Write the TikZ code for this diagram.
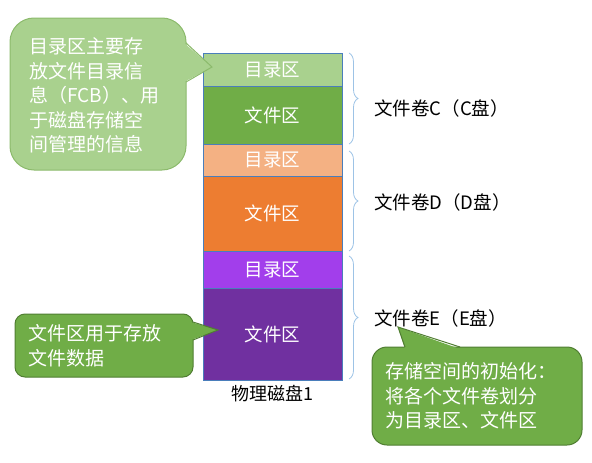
\documentclass[tikz,border=0pt]{standalone}
\usepackage{fontspec}
\setmainfont{Noto Sans CJK SC}
\usetikzlibrary{decorations.pathreplacing}
\definecolor{dirC}{HTML}{A9D18E}
\definecolor{fileC}{HTML}{70AD47}
\definecolor{dirD}{HTML}{F4B183}
\definecolor{fileD}{HTML}{ED7D31}
\definecolor{dirE}{HTML}{A23EEB}
\definecolor{fileE}{HTML}{7030A0}
\definecolor{segline}{HTML}{4A7EBB}
\definecolor{braceline}{HTML}{9DC3E6}
\definecolor{lightborder}{HTML}{8CBA6C}
\definecolor{darkborder}{HTML}{507E32}
\begin{document}
\begin{tikzpicture}[x=1pt,y=-1pt,
  seg/.style={draw=segline, line width=0.7pt, minimum width=139pt, inner sep=0pt, text=white, font=\fontsize{18.5}{22}\selectfont},
  bracestyle/.style={draw=braceline, line width=0.8pt, decorate, decoration={brace, amplitude=9pt}},
  vol/.style={anchor=west, inner sep=0pt, font=\fontsize{18.5}{22}\selectfont},
  note/.style={anchor=west, inner sep=0pt, align=left, text=white, font=\fontsize{19}{24.5}\selectfont},
  c1/.style={fill=dirC, draw=lightborder, line width=1pt},
  c2/.style={fill=fileC, draw=darkborder, line width=1pt}
]
\useasboundingbox (0,0) rectangle (592,463);
% disk segments
\node[seg, fill=dirC,  minimum height=33pt] (dc) at (272.5,69.5) {目录区};
\node[seg, fill=fileC, minimum height=58pt] (fc) at (272.5,115) {文件区};
\node[seg, fill=dirD,  minimum height=32pt] (dd) at (272.5,160) {目录区};
\node[seg, fill=fileD, minimum height=75pt] (fd) at (272.5,213.5) {文件区};
\node[seg, fill=dirE,  minimum height=37pt] (de) at (272.5,269.5) {目录区};
\node[seg, fill=fileE, minimum height=92pt] (fe) at (272.5,334) {文件区};
\node[inner sep=0pt, font=\fontsize{18}{22}\selectfont] (disk) at (272.5,394) {物理磁盘1};
% braces
\coordinate (bc1) at (349,53);  \coordinate (bc2) at (349,144);
\coordinate (bd1) at (349,151); \coordinate (bd2) at (349,251);
\coordinate (be1) at (349,256); \coordinate (be2) at (349,379);
\draw[bracestyle] (bc1) -- (bc2);
\draw[bracestyle] (bd1) -- (bd2);
\draw[bracestyle] (be1) -- (be2);
\node[vol] (vc) at (374,108) {文件卷C（C盘）};
\node[vol] (vd) at (374,202) {文件卷D（D盘）};
\node[vol] (ve) at (374,318) {文件卷E（E盘）};
% callout 1
\draw[c1, rounded corners=24pt] (10,18) rectangle (186,170);
\coordinate (t1) at (212,67);
\fill[dirC] (184,43) -- (t1) -- (184,82) -- cycle;
\draw[draw=lightborder, line width=1pt, line join=miter] (186,43) -- (t1) -- (186,82);
\node[note] (n1) at (29,95.5) {目录区主要存\\放文件目录信\\息（FCB）、用\\于磁盘存储空\\间管理的信息};
% callout 2
\draw[c2, rounded corners=10pt] (15,314) rectangle (193,377);
\coordinate (t2) at (218,330);
\fill[fileC] (191,322) -- (t2) -- (191,340) -- cycle;
\draw[draw=darkborder, line width=1pt] (193,322) -- (t2) -- (193,340);
\node[note] (n2) at (28,345.5) {文件区用于存放\\文件数据};
% callout 3
\draw[c2, rounded corners=15pt] (372,347) rectangle (582,445);
\coordinate (t3) at (398,327);
\fill[fileC] (405,349) -- (t3) -- (460,349) -- cycle;
\draw[draw=darkborder, line width=1pt] (405,347) -- (t3) -- (460,347);
\node[note] (n3) at (385,396) {存储空间的初始化：\\将各个文件卷划分\\为目录区、文件区};
\end{tikzpicture}
\end{document}
